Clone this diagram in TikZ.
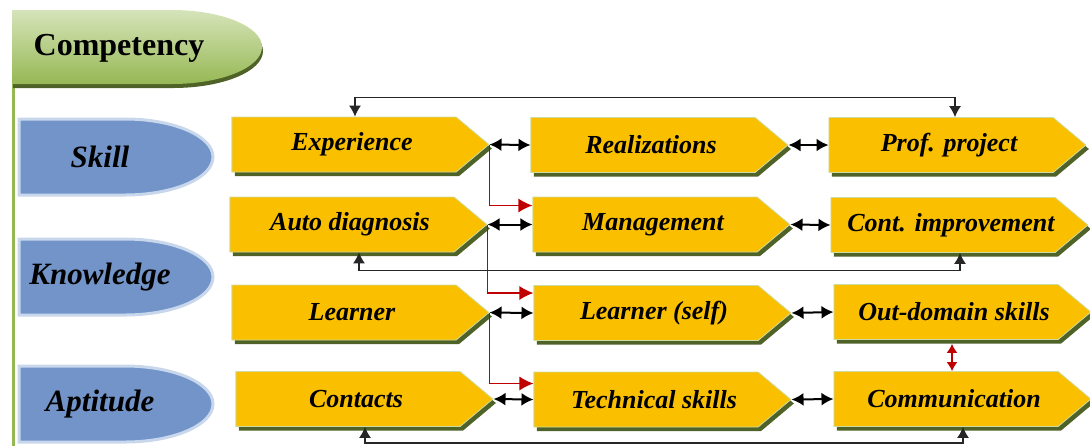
\documentclass[tikz,border=0pt]{standalone}
\usepackage{fontspec}
\setmainfont{Liberation Serif}
\usepackage{tikz}
\usetikzlibrary{arrows.meta,shapes.symbols,shadows}

\definecolor{boxfill}{RGB}{250,192,0}
\definecolor{boxedge}{RGB}{205,220,160}
\definecolor{boxshade}{RGB}{79,98,40}
\definecolor{catblue}{RGB}{114,148,201}
\definecolor{cathalo}{RGB}{200,215,236}
\definecolor{leafhi}{RGB}{214,228,186}
\definecolor{leaflo}{RGB}{150,184,84}
\definecolor{redline}{RGB}{192,0,0}

\begin{document}
\begin{tikzpicture}[x=0.5pt,y=-0.5pt,
  box/.style={signal,signal to=east,signal pointer angle=80,draw=boxedge,line width=0.4pt,fill=boxfill,
    minimum width=128.5pt,minimum height=27.5pt,inner sep=0pt,font=\fontsize{13}{15}\selectfont\bfseries\itshape,
    execute at begin node=\hspace*{8pt},
    drop shadow={shadow xshift=1.5pt,shadow yshift=-2pt,fill=boxshade,opacity=1}},
  cat/.style={font=\fontsize{15.5}{18}\selectfont\bfseries\itshape},
  both/.style={{Latex[length=6pt,width=6.5pt]}-{Latex[length=6pt,width=6.5pt]},line width=1pt},
  ring/.style={{Latex[length=5.5pt,width=6pt]}-{Latex[length=5.5pt,width=6pt]},line width=0.6pt,black!85},
  push/.style={-{Latex[length=7pt,width=7pt]},line width=0.8pt,redline}]

 \useasboundingbox (0,0) rectangle (1090,446);

 % stem and competency banner
 \draw[line width=1.5pt,leaflo] (13,10) -- (13,446);
 \fill[boxshade] (13,14) -- (173,14) arc[start angle=90,end angle=-90,x radius=45pt,y radius=18.5pt] -- (13,88) -- cycle;
 \shade[top color=leafhi,bottom color=leaflo] (12,10) -- (172,10) arc[start angle=90,end angle=-90,x radius=45pt,y radius=18.5pt] -- (12,84) -- cycle;
 \node[font=\fontsize{16}{18}\selectfont\bfseries] (comp) at (119,48) {Competency};

 % categories
 \foreach \y/\n/\t in {157/sk/Skill,277/kn/Knowledge,404/ap/Aptitude} {
   \filldraw[fill=catblue,draw=cathalo,line width=1.5pt] (19,\y-38) -- (125,\y-38)
     arc[start angle=90,end angle=-90,x radius=44pt,y radius=19pt] -- (19,\y+38) -- cycle;
   \node[cat] (\n) at (100,\y) {\t};
 }

 % boxes
 \node[box] (ex) at (344,144.5) {Experience};
 \node[box] (re) at (643,145) {Realizations};
 \node[box] (pp) at (941,145) {Prof. project};
 \node[box] (ad) at (342,224.5) {Auto diagnosis};
 \node[box] (mg) at (645,224.5) {Management};
 \node[box] (ci) at (943,225) {Cont. improvement};
 \node[box] (le) at (344,312.5) {Learner};
 \node[box] (ls) at (646,313) {Learner (self)};
 \node[box] (od) at (946,312) {Out-domain skills};
 \node[box] (co) at (348,399) {Contacts};
 \node[box] (ts) at (646,399.5) {Technical skills};
 \node[box] (cm) at (946,399) {Communication};

 % red feeds
 \draw[push] (ex.east) |- ([yshift=9.5pt]mg.west);
 \draw[push] (ad.east) |- ([yshift=10pt]ls.west);
 \draw[push] (le.east) |- ([yshift=8pt]ts.west);
 \draw[push,{Latex[length=4.5pt,width=5.5pt]}-{Latex[length=4.5pt,width=5.5pt]},shorten <=2pt]
   ([xshift=3pt]od.south) -- ([xshift=3pt]cm.north);

 % links along the rows
 \foreach \a/\b in {ex/re,re/pp,ad/mg,mg/ci,le/ls,ls/od,co/ts,ts/cm}
   \draw[both] (\a.east) -- (\b.west);

 % loops over and under the rows
 \draw[ring] ([xshift=5.5pt]ex.north) -- ++(0,-19) -| ([xshift=7pt]pp.north);
 \draw[ring] ([xshift=8.5pt]ad.south) -- ++(0,18) -| ([xshift=8.5pt]ci.south);
 \draw[ring] ([xshift=8.5pt]co.south) -- ++(0,16) -| ([xshift=8.5pt]cm.south);
\end{tikzpicture}
\end{document}
